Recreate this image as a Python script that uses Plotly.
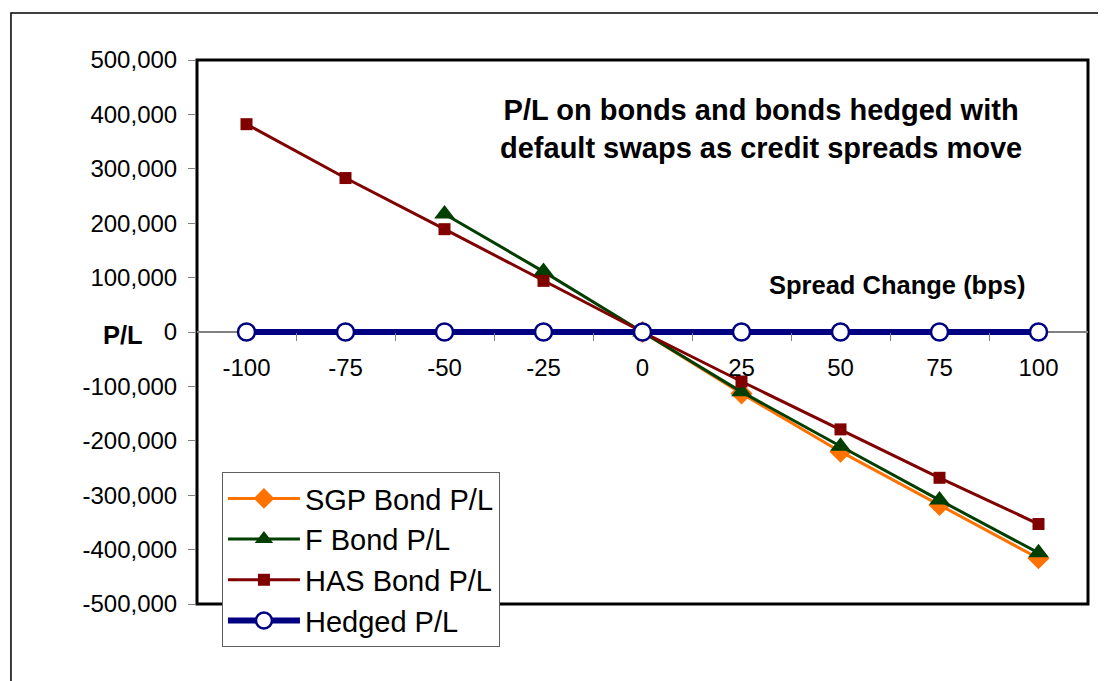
import plotly.graph_objects as go

spread_change = [-100, -75, -50, -25, 0, 25, 50, 75, 100]
x_tick_text = ["-100", "-75", "-50", "-25", "0", "25", "50", "75", "100"]
sgp_bond_pl = [None, None, None, None, 0, -113000, -220000, -318000, -416000]
f_bond_pl = [None, None, 217000, 111000, 0, -110000, -210000, -309000, -406000]
has_bond_pl = [382000, 283000, 189000, 94000, 0, -91000, -179000, -268000, -353000]
hedged_pl = [0, 0, 0, 0, 0, 0, 0, 0, 0]

y_tick_vals = [500000, 400000, 300000, 200000, 100000, 0, -100000, -200000, -300000, -400000, -500000]
y_tick_text = ["500,000", "400,000", "300,000", "200,000", "100,000", "0",
               "-100,000", "-200,000", "-300,000", "-400,000", "-500,000"]
x_minor_ticks = [-87.5, -62.5, -37.5, -12.5, 12.5, 37.5, 62.5, 87.5]

FONT = "Arial, Liberation Sans, sans-serif"

fig = go.Figure()
fig.add_trace(go.Scatter(x=spread_change, y=sgp_bond_pl, name="SGP Bond P/L", mode="lines+markers",
                         line=dict(color="#FF7200", width=3), legendgroup="a",
                         marker=dict(symbol="diamond", size=17, color="#FF7200")))
fig.add_trace(go.Scatter(x=spread_change, y=f_bond_pl, name="F Bond P/L", mode="lines+markers",
                         line=dict(color="#003F00", width=3), legendgroup="b",
                         marker=dict(symbol="triangle-up", size=18, color="#003F00")))
fig.add_trace(go.Scatter(x=spread_change, y=has_bond_pl, name="HAS Bond P/L", mode="lines+markers",
                         line=dict(color="#800000", width=3), legendgroup="c",
                         marker=dict(symbol="square", size=12, color="#800000")))
fig.add_trace(go.Scatter(x=spread_change, y=hedged_pl, name="Hedged P/L", mode="lines+markers",
                         line=dict(color="#000080", width=6), legendgroup="d",
                         marker=dict(symbol="circle", size=17, color="white",
                                     line=dict(color="#000080", width=2.5))))

fig.update_layout(
    width=1098, height=673,
    margin=dict(l=189, r=18, t=52, b=77),
    paper_bgcolor="white", plot_bgcolor="white",
    font=dict(family=FONT, size=24, color="black"),
    showlegend=True,
    legend=dict(x=0.028, y=0.2426, xanchor="left", yanchor="top",
                bgcolor="white", bordercolor="#606060", borderwidth=1,
                font=dict(size=29, family=FONT), itemwidth=72,
                tracegroupgap=9, traceorder="normal"),
    xaxis=dict(range=[-112.5, 112.5], anchor="free", position=0.5,
               tickvals=spread_change, ticktext=x_tick_text,
               ticks="outside", ticklen=8, tickcolor="rgba(0,0,0,0)",
               ticklabelstandoff=6,
               showgrid=False, zeroline=False, showline=False,
               tickfont=dict(size=24),
               minor=dict(tickvals=x_minor_ticks, ticks="outside", ticklen=8,
                          tickcolor="#808080", showgrid=False)),
    yaxis=dict(range=[-500000, 500000], domain=[0, 1],
               tickvals=y_tick_vals, ticktext=y_tick_text,
               ticks="outside", ticklen=8, tickcolor="#808080",
               ticklabelstandoff=6,
               showgrid=False, zeroline=True, zerolinecolor="#808080", zerolinewidth=1.5,
               showline=False, tickfont=dict(size=24)),
    shapes=[
        dict(type="rect", xref="paper", yref="paper", x0=0, x1=1, y0=0, y1=1,
             line=dict(color="black", width=3), layer="below"),
        dict(type="rect", xref="paper", yref="paper", x0=-0.2088, x1=1.2, y0=-0.3, y1=1.0864,
             line=dict(color="black", width=1.5), layer="below"),
    ],
    annotations=[
        dict(text="<b>P/L on bonds and bonds hedged with<br>default swaps as credit spreads move</b>",
             xref="paper", yref="paper", x=0.633, y=0.874, xanchor="center", yanchor="middle",
             showarrow=False, font=dict(size=29, family=FONT)),
        dict(text="<b>Spread Change (bps)</b>", xref="paper", yref="paper", x=0.7856, y=0.5864,
             xanchor="center", yanchor="middle", showarrow=False, font=dict(size=25.5, family=FONT)),
        dict(text="<b>P/L</b>", xref="paper", yref="paper", x=-0.083, y=0.494,
             xanchor="center", yanchor="middle", showarrow=False, font=dict(size=25.5, family=FONT)),
    ],
)

fig.write_html("out.html")
